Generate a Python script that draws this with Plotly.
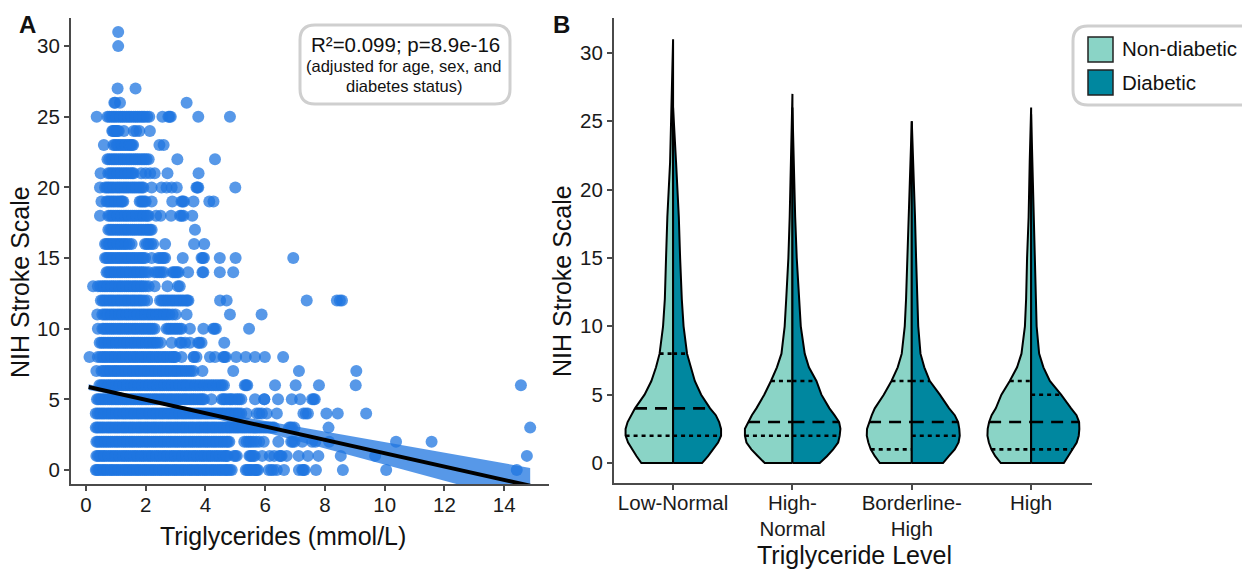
import numpy as np
import plotly.graph_objects as go

W, H = 1242, 569
FONT = "Liberation Sans"

# ---------- Panel A: triglyceride values read per NIH Stroke Scale row ----------
tg_nihss_0 = [.33,.42,.55,.66,.79,.9,1.03,1.15,1.28,1.4,1.52,1.65,1.77,1.9,2.02,2.15,2.27,2.4,2.52,2.65,2.77,2.9,3.02,3.15,3.27,3.4,3.52,3.65,3.77,3.9,4.02,4.15,4.27,4.4,4.52,4.65,4.75,4.88,5.35,5.45,5.55,5.68,5.76,6.12,6.27,6.39,6.63,7.13,7.24,7.32,7.7,8.6,10.05,14.42]
tg_nihss_1 = [.35,.45,.57,.68,.81,.93,1.05,1.18,1.3,1.42,1.55,1.67,1.8,1.92,2.05,2.17,2.3,2.42,2.55,2.67,2.8,2.92,3.05,3.17,3.3,3.42,3.55,3.67,3.8,3.92,4.05,4.17,4.3,4.42,4.55,4.67,4.75,4.95,5.05,5.47,5.55,5.65,5.9,6.15,6.3,6.47,6.55,6.72,7.12,7.43,7.78,8.53,9.68,14.76]
tg_nihss_2 = [.35,.46,.58,.7,.82,.95,1.07,1.2,1.32,1.45,1.57,1.7,1.82,1.95,2.07,2.2,2.32,2.45,2.57,2.7,2.82,2.95,3.07,3.2,3.32,3.45,3.57,3.7,3.82,3.95,4.07,4.2,4.32,4.45,4.57,4.7,4.8,5.3,5.45,5.6,5.8,5.95,6.44,6.87,6.98,7.24,7.57,7.68,8.14,10.38,11.57]
tg_nihss_3 = [.33,.44,.56,.69,.81,.94,1.06,1.19,1.31,1.44,1.56,1.69,1.81,1.94,2.06,2.19,2.31,2.44,2.56,2.69,2.81,2.94,3.06,3.19,3.31,3.44,3.56,3.69,3.81,3.94,4.06,4.19,4.31,4.44,4.56,4.69,4.81,4.94,5.06,5.19,5.31,5.44,5.56,5.69,5.81,5.94,6.06,6.18,6.3,6.8,6.9,6.98,8.12,14.87]
tg_nihss_4 = [.33,.45,.57,.7,.82,.95,1.07,1.2,1.32,1.45,1.57,1.7,1.82,1.95,2.07,2.2,2.32,2.45,2.57,2.7,2.82,2.95,3.07,3.2,3.32,3.45,3.57,3.7,3.82,3.95,4.07,4.2,4.32,4.45,4.57,4.7,4.82,4.95,5.07,5.2,5.38,5.72,5.89,6.05,6.39,7.28,7.43,8.05,8.43,9.38]
tg_nihss_5 = [.37,.48,.6,.73,.85,.98,1.1,1.23,1.35,1.48,1.6,1.73,1.85,1.98,2.1,2.23,2.35,2.48,2.6,2.73,2.85,2.98,3.1,3.23,3.35,3.48,3.6,3.73,3.85,3.95,4.2,4.55,4.65,4.8,4.9,5.07,5.2,5.66,5.97,6.43,6.89,7.17,7.57,7.66]
tg_nihss_6 = [.45,.57,.7,.82,.95,1.07,1.2,1.32,1.45,1.57,1.7,1.82,1.95,2.07,2.2,2.32,2.45,2.57,2.7,2.82,2.95,3.07,3.2,3.32,3.45,3.6,3.75,3.9,4.05,4.2,4.35,4.5,4.62,5.32,5.4,6.33,7.02,7.8,9.03,14.56]
tg_nihss_7 = [.35,.52,.65,.77,.9,1.02,1.15,1.27,1.4,1.52,1.65,1.77,1.9,2.02,2.15,2.27,2.4,2.52,2.65,2.77,2.9,3.02,3.15,3.3,3.45,3.6,3.9,4.93,7.13,9.05]
tg_nihss_8 = [.12,.4,.55,.67,.8,.92,1.05,1.17,1.3,1.42,1.55,1.67,1.8,1.92,2.05,2.17,2.3,2.42,2.55,2.67,2.8,2.92,3.0,3.2,3.62,3.7,4.15,4.32,4.6,4.68,5.03,5.35,5.66,5.99,6.6]
tg_nihss_9 = [.46,.58,.71,.83,.96,1.08,1.21,1.33,1.46,1.58,1.71,1.83,1.96,2.08,2.21,2.33,2.5,2.87,3.15,3.32,3.48,3.76,3.87,4.63]
tg_nihss_10 = [.4,.55,.67,.8,.92,1.05,1.17,1.3,1.42,1.55,1.67,1.8,1.92,2.05,2.17,2.3,2.7,2.82,2.95,3.07,3.2,3.48,3.93,4.26,4.35,5.46]
tg_nihss_11 = [.38,.55,.67,.8,.92,1.05,1.17,1.3,1.42,1.55,1.67,1.8,1.92,2.05,2.17,2.3,2.42,2.55,2.67,2.8,3.0,3.37,4.82,5.88]
tg_nihss_12 = [.5,.62,.75,.87,1.0,1.12,1.25,1.37,1.5,1.62,1.75,1.87,2.05,2.48,2.6,2.72,2.85,2.97,3.1,3.22,3.35,3.43,4.49,4.71,7.39,8.4,8.57]
tg_nihss_13 = [.24,.4,.55,.67,.8,.92,1.05,1.17,1.3,1.42,1.55,1.67,1.8,1.92,2.1,2.3,2.73,3.08,3.14]
tg_nihss_14 = [.69,.8,.92,1.05,1.17,1.3,1.42,1.55,1.67,1.8,1.92,2.1,2.3,2.45,2.6,2.9,3.0,3.1,3.42,3.93,4.48,4.93]
tg_nihss_15 = [.64,.75,.87,1.0,1.12,1.25,1.37,1.5,1.62,1.75,1.87,1.98,2.2,2.42,2.55,2.65,3.24,3.87,3.95,4.48,5.01,6.94]
tg_nihss_16 = [.64,.75,.87,1.0,1.12,1.25,1.37,1.53,1.98,2.1,2.25,2.65,3.62,3.96]
tg_nihss_17 = [.75,.87,1.0,1.12,1.25,1.37,1.5,1.62,1.75,1.87,2.0,2.1,2.2,3.65]
tg_nihss_18 = [.47,.75,.87,1.0,1.12,1.25,1.37,1.5,1.62,1.75,1.87,2.0,2.1,2.35,2.5,2.85,3.15,3.26,3.56]
tg_nihss_19 = [.52,.69,.8,.92,1.05,1.17,1.25,1.8,1.9,2.0,2.2,2.89,3.2,3.28,3.6,4.13,4.27]
tg_nihss_20 = [.47,.64,.75,.87,1.0,1.12,1.25,1.37,1.5,1.62,1.75,1.87,1.92,2.2,2.53,2.7,2.87,3.04,3.7,3.76,5.0]
tg_nihss_21 = [.49,.75,.87,1.0,1.12,1.25,1.37,1.5,1.6,1.85,2.0,2.15,2.3,2.73,3.77]
tg_nihss_22 = [.72,.85,.97,1.1,1.22,1.35,1.47,1.6,1.72,1.85,1.97,2.1,3.06,4.32]
tg_nihss_23 = [.6,.92,1.03,1.15,1.27,1.39,1.5,1.58,2.46,2.6]
tg_nihss_24 = [.88,.95,1.02,1.1,1.27,1.6,1.68,1.79,2.14]
tg_nihss_25 = [.36,.72,.85,.97,1.1,1.22,1.35,1.47,1.6,1.72,1.85,1.97,2.12,2.56,2.76,2.84,3.76,4.82]
tg_nihss_26 = [.95,.98,1.14,3.37]
tg_nihss_27 = [1.06,1.66]
tg_nihss_30 = [1.08]
tg_nihss_31 = [1.08]

# further overlapping patients in the solid stretches of each row
tg_more_0 = [.37,.48,.6,.72,.85,.97,1.09,1.22,1.34,1.46,1.58,1.71,1.83,1.96,2.08,2.21,2.33,2.46,2.58,2.71,2.83,2.96,3.08,3.21,3.33,3.46,3.58,3.71,3.83,3.96,4.08,4.21,4.33,4.46,4.58,4.7,4.82,5.4,5.5,5.62,5.72,6.2,7.28]
tg_more_1 = [.4,.51,.62,.75,.87,.99,1.11,1.24,1.36,1.48,1.61,1.73,1.86,1.98,2.11,2.23,2.36,2.48,2.61,2.73,2.86,2.98,3.11,3.23,3.36,3.48,3.61,3.73,3.86,3.98,4.11,4.23,4.36,4.48,4.61,4.71,5.0,5.51,5.6,6.51]
tg_more_2 = [.4,.52,.64,.76,.88,1.01,1.13,1.26,1.38,1.51,1.63,1.76,1.88,2.01,2.13,2.26,2.38,2.51,2.63,2.76,2.88,3.01,3.13,3.26,3.38,3.51,3.63,3.76,3.88,4.01,4.13,4.26,4.38,4.51,4.63,4.75,5.38,5.52,5.7,6.92]
tg_more_3 = [.38,.5,.62,.75,.87,1.0,1.12,1.25,1.37,1.5,1.62,1.75,1.87,2.0,2.12,2.25,2.37,2.5,2.62,2.75,2.87,3.0,3.12,3.25,3.37,3.5,3.62,3.75,3.87,4.0,4.12,4.25,4.37,4.5,4.62,4.75,4.87,5.0,5.12,5.25,5.37,5.5,5.62,5.75,5.87,6.0,6.12,6.24,6.85]
tg_more_4 = [.39,.51,.63,.76,.88,1.01,1.13,1.26,1.38,1.51,1.63,1.76,1.88,2.01,2.13,2.26,2.38,2.51,2.63,2.76,2.88,3.01,3.13,3.26,3.38,3.51,3.63,3.76,3.88,4.01,4.13,4.26,4.38,4.51,4.63,4.76,4.88,5.01,5.13,5.8,7.36]
tg_more_5 = [.42,.54,.66,.79,.91,1.04,1.16,1.29,1.41,1.54,1.66,1.79,1.91,2.04,2.16,2.29,2.41,2.54,2.66,2.79,2.91,3.04,3.16,3.29,3.41,3.54,3.66,3.79,3.9,4.6,4.72,4.85,5.0,5.13,5.97,7.62]
tg_more_6 = [.51,.63,.76,.88,1.01,1.13,1.26,1.38,1.51,1.63,1.76,1.88,2.01,2.13,2.26,2.38,2.51,2.63,2.76,2.88,3.01,3.13,3.26,3.38,3.52,3.67,3.82,3.97,4.12,4.27,4.42,4.56,5.36]
tg_more_7 = [.58,.71,.83,.96,1.08,1.21,1.33,1.46,1.58,1.71,1.83,1.96,2.08,2.21,2.33,2.46,2.58,2.71,2.83,2.96,3.08,3.22,3.37,3.52]
tg_more_8 = [.48,.61,.73,.86,.98,1.11,1.23,1.36,1.48,1.61,1.73,1.86,1.98,2.11,2.23,2.36,2.48,2.61,2.73,2.86,2.96,3.6,4.63]
tg_more_9 = [.52,.64,.77,.89,1.02,1.14,1.27,1.39,1.52,1.64,1.77,1.89,2.02,2.14,2.27,2.4,3.2,3.8]
tg_more_10 = [.6,.73,.86,.98,1.11,1.23,1.36,1.48,1.61,1.73,1.86,1.98,2.11,2.23,2.76,2.88,3.01,3.14,4.3]
tg_more_11 = [.61,.73,.86,.98,1.11,1.23,1.36,1.48,1.61,1.73,1.86,1.98,2.11,2.23,2.36,2.48,2.61,2.73,2.9]
tg_more_12 = [.56,.68,.81,.93,1.06,1.18,1.31,1.43,1.56,1.68,1.81,1.95,2.54,2.66,2.78,2.91,3.04,3.16,3.28,3.39,8.5]
tg_more_13 = [.48,.61,.73,.86,.98,1.11,1.23,1.36,1.48,1.61,1.73,1.86,2.0]
tg_more_14 = [.74,.86,.98,1.11,1.23,1.36,1.48,1.61,1.73,1.86,2.0,2.38,2.52,2.95,3.05,3.9]
tg_more_15 = [.69,.81,.93,1.06,1.18,1.31,1.43,1.56,1.68,1.81,1.92,2.48,2.6,3.91]
tg_more_16 = [.69,.81,.93,1.06,1.18,1.31,1.45,2.04,2.18]
tg_more_17 = [.81,.93,1.06,1.18,1.31,1.43,1.56,1.68,1.81,1.93,2.05,2.15]
tg_more_18 = [.81,.93,1.06,1.18,1.31,1.43,1.56,1.68,1.81,1.93,2.05,3.2]
tg_more_19 = [.74,.86,.98,1.11,1.21,1.85,1.95,3.24]
tg_more_20 = [.7,.81,.93,1.06,1.18,1.31,1.43,1.56,1.68,1.81,3.73]
tg_more_21 = [.81,.93,1.06,1.18,1.31,1.43,1.55]
tg_more_22 = [.78,.91,1.03,1.16,1.28,1.41,1.53,1.66,1.78,1.91,2.03]
tg_more_23 = [.97,1.09,1.21,1.33,1.45,1.54]
tg_more_24 = [.91,.98,1.06]
tg_more_25 = [.78,.91,1.03,1.16,1.28,1.41,1.53,1.66,1.78,1.91,2.05,2.8]

scatter_rows = {0: tg_nihss_0 + tg_more_0, 1: tg_nihss_1 + tg_more_1, 2: tg_nihss_2 + tg_more_2,
                3: tg_nihss_3 + tg_more_3, 4: tg_nihss_4 + tg_more_4, 5: tg_nihss_5 + tg_more_5,
                6: tg_nihss_6 + tg_more_6, 7: tg_nihss_7 + tg_more_7, 8: tg_nihss_8 + tg_more_8,
                9: tg_nihss_9 + tg_more_9, 10: tg_nihss_10 + tg_more_10, 11: tg_nihss_11 + tg_more_11,
                12: tg_nihss_12 + tg_more_12, 13: tg_nihss_13 + tg_more_13, 14: tg_nihss_14 + tg_more_14,
                15: tg_nihss_15 + tg_more_15, 16: tg_nihss_16 + tg_more_16, 17: tg_nihss_17 + tg_more_17,
                18: tg_nihss_18 + tg_more_18, 19: tg_nihss_19 + tg_more_19, 20: tg_nihss_20 + tg_more_20,
                21: tg_nihss_21 + tg_more_21, 22: tg_nihss_22 + tg_more_22, 23: tg_nihss_23 + tg_more_23,
                24: tg_nihss_24 + tg_more_24, 25: tg_nihss_25 + tg_more_25, 26: tg_nihss_26,
                27: tg_nihss_27, 30: tg_nihss_30, 31: tg_nihss_31}

fit_x = [0.09, 2, 4, 6, 8, 10, 12, 14, 14.87]
fit_y = [5.87, 4.97, 4.02, 3.08, 2.13, 1.19, 0.24, -0.70, -1.11]
fit_upper = [6.07, 5.04, 4.22, 3.48, 2.73, 1.99, 1.24, 0.50, 0.15]
fit_lower = [5.67, 4.90, 3.82, 2.68, 1.53, 0.39, -0.76, -1.90, -2.37]

# ---------- Panel B: violin half-widths (category units) at NIH Stroke Scale levels ----------
categories = ["Low-Normal", "High-<br>Normal", "Borderline-<br>High", "High"]
violin_levels = [0, .5, 1, 1.5, 2, 2.5, 3, 3.5, 4, 5, 6, 7, 8, 10, 12, 15, 18, 22]

non_diabetic_widths = [
    [.266,.306,.344,.377,.398,.398,.381,.352,.319,.239,.182,.143,.113,.084,.069,.059,.048,.025],
    [.232,.289,.344,.385,.398,.398,.372,.340,.302,.236,.180,.130,.092,.065,.052,.034,.023,.013],
    [.268,.310,.344,.364,.377,.375,.358,.335,.310,.235,.170,.118,.084,.059,.048,.038,.029,.013],
    [.254,.300,.333,.354,.366,.364,.352,.331,.296,.249,.179,.118,.081,.052,.042,.034,.021,.012],
]
diabetic_widths = [
    [.243,.293,.335,.377,.402,.402,.386,.358,.310,.235,.182,.147,.117,.088,.073,.059,.048,.025],
    [.229,.289,.341,.383,.396,.402,.391,.352,.310,.243,.201,.138,.103,.070,.055,.036,.023,.013],
    [.262,.310,.360,.392,.402,.398,.388,.360,.313,.235,.151,.105,.073,.054,.045,.036,.027,.013],
    [.274,.310,.346,.382,.399,.404,.402,.380,.335,.251,.157,.103,.067,.046,.040,.032,.020,.012],
]
non_diabetic_top = [31, 27, 25, 26]
diabetic_top = [26, 26, 25, 25.5]
top_width = 0.004

non_diabetic_quartiles = [[2, 4, 8], [2, 3, 6], [1, 3, 6], [1, 3, 6]]
diabetic_quartiles = [[2, 4, 8], [2, 3, 6], [2, 3, 6], [1, 3, 5]]

legend_labels = ["Non-diabetic", "Diabetic"]
y_ticks_a = [0, 5, 10, 15, 20, 25, 30]
x_ticks_a = [0, 2, 4, 6, 8, 10, 12, 14]
y_ticks_b = [0, 5, 10, 15, 20, 25, 30]

BLUE = "#1f75e0"
LIGHT = "#8AD4C6"
DARK = "#00879F"
AXIS = "#4a4a4a"
BOX = "#cfcfcf"


def fx(p):
    return p / W


def fy(p):
    return 1 - p / H


def round_box(x0, y0, x1, y1, r):
    x0, x1 = fx(x0), fx(x1)
    rx, ry = r / W, r / H
    y0, y1 = fy(y0), fy(y1)
    return (f"M {x0+rx} {y0} L {x1-rx} {y0} Q {x1} {y0} {x1} {y0-ry} L {x1} {y1+ry} "
            f"Q {x1} {y1} {x1-rx} {y1} L {x0+rx} {y1} Q {x0} {y1} {x0} {y1+ry} "
            f"L {x0} {y0-ry} Q {x0} {y0} {x0+rx} {y0} Z")


fig = go.Figure()

# scatter
sx, sy = [], []
for score, xs in scatter_rows.items():
    sx += xs
    sy += [score] * len(xs)
fig.add_trace(go.Scatter(x=sx, y=sy, mode="markers", xaxis="x", yaxis="y", showlegend=False,
                         marker=dict(size=12, color=BLUE, opacity=0.75, line=dict(width=0))))
fig.add_trace(go.Scatter(x=fit_x + fit_x[::-1], y=fit_upper + fit_lower[::-1], mode="lines", fill="toself",
                         fillcolor="rgba(31,117,224,0.75)", line=dict(width=0), xaxis="x", yaxis="y",
                         showlegend=False))
fig.add_trace(go.Scatter(x=fit_x, y=fit_y, mode="lines", line=dict(color="black", width=4),
                         xaxis="x", yaxis="y", showlegend=False))

# violins
for i in range(4):
    for widths, tops, color, sign, quart in (
        (non_diabetic_widths, non_diabetic_top, LIGHT, -1, non_diabetic_quartiles),
        (diabetic_widths, diabetic_top, DARK, 1, diabetic_quartiles),
    ):
        lv = violin_levels + [tops[i]]
        w = widths[i] + [top_width]
        xs = [i + sign * v for v in w]
        fig.add_trace(go.Scatter(x=[i] + xs + [i, i], y=[0] + lv + [lv[-1], 0], mode="lines", fill="toself",
                                 fillcolor=color, line=dict(color="black", width=2),
                                 xaxis="x2", yaxis="y2", showlegend=False))
        for q, dash in zip(quart[i], ("4px,4px", "12px,8px", "4px,4px")):
            half = float(np.interp(q, lv, w))
            fig.add_trace(go.Scatter(x=[i - half if sign < 0 else i, i if sign < 0 else i + half], y=[q, q],
                                     mode="lines", line=dict(color="black", width=2.6, dash=dash),
                                     xaxis="x2", yaxis="y2", showlegend=False))

tick = dict(ticks="outside", ticklen=5, tickwidth=1.5, tickcolor=AXIS, showline=True, linecolor=AXIS, linewidth=2,
            showgrid=False, zeroline=False, tickfont=dict(size=20.5, color="#1a1a1a", family=FONT))

fig.update_layout(
    width=W, height=H, margin=dict(l=0, r=0, t=0, b=0), autosize=False,
    paper_bgcolor="white", plot_bgcolor="white", font=dict(family=FONT), showlegend=False,
    xaxis=dict(domain=[fx(71), fx(549)], range=[-0.5, 15.5], tickvals=x_ticks_a, anchor="y",
               ticklabelstandoff=-4, **tick),
    yaxis=dict(domain=[fy(484), fy(18)], range=[-0.99, 31.99], tickvals=y_ticks_a, anchor="x", **tick),
    xaxis2=dict(domain=[fx(614), fx(1092)], range=[-0.495, 3.51], tickvals=[0, 1, 2, 3], ticktext=categories,
                anchor="y2", ticklabelstandoff=-5, **tick),
    yaxis2=dict(domain=[fy(483), fy(18)], range=[-1.46, 32.55], tickvals=y_ticks_b, anchor="x2", **tick),
    shapes=[
        dict(type="path", xref="paper", yref="paper", path=round_box(300, 25, 510, 104, 15),
             fillcolor="white", line=dict(color=BOX, width=3)),
        dict(type="path", xref="paper", yref="paper", path=round_box(1073, 26, 1262, 105, 15),
             fillcolor="white", line=dict(color=BOX, width=3)),
        dict(type="rect", xref="paper", yref="paper", x0=fx(1088), x1=fx(1113), y0=fy(37), y1=fy(62),
             fillcolor=LIGHT, line=dict(color="#222222", width=1.5)),
        dict(type="rect", xref="paper", yref="paper", x0=fx(1088), x1=fx(1113), y0=fy(70), y1=fy(95),
             fillcolor=DARK, line=dict(color="#222222", width=1.5)),
    ],
)


def note(text, px, py, size, bold=False, anchor="center", angle=0):
    fig.add_annotation(xref="paper", yref="paper", x=fx(px), y=fy(py), text=f"<b>{text}</b>" if bold else text,
                       showarrow=False, xanchor=anchor, yanchor="middle", textangle=angle,
                       font=dict(size=size, color="#111111", family=FONT))


note("A", 27, 24, 24, bold=True)
note("B", 561, 24, 24, bold=True)
note("R²=0.099; p=8.9e-16", 405, 45, 20.5)
note("(adjusted for age, sex, and", 403, 66, 16.5)
note("diabetes status)", 403.5, 86, 16.5)
note(legend_labels[0], 1120, 48, 20.5, anchor="left")
note(legend_labels[1], 1120, 83, 20.5, anchor="left")
note("Triglycerides (mmol/L)", 283, 536, 25)
note("NIH Stroke Scale", 20, 282, 25, angle=-90)
note("Triglyceride Level", 855, 555, 25)
note("NIH Stroke Scale", 562, 281, 25, angle=-90)

fig.write_html("out.html", post_script="document.body.style.margin='0';", config={"displayModeBar": False})
